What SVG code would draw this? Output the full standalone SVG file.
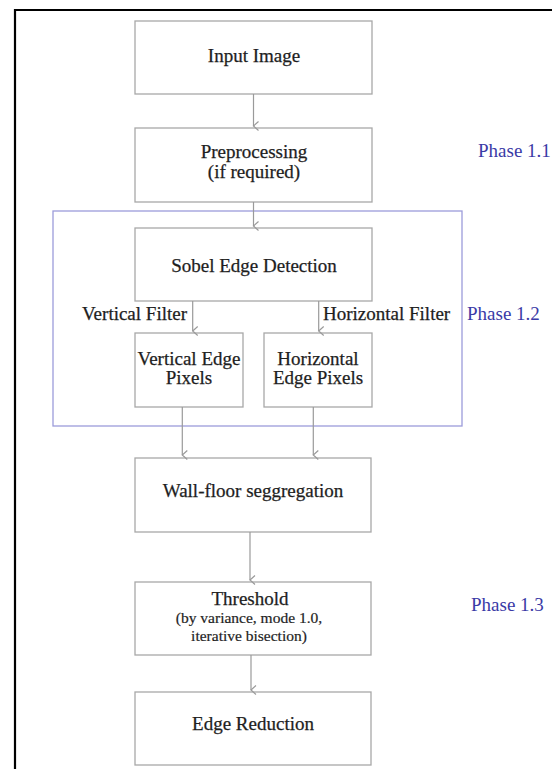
<svg xmlns="http://www.w3.org/2000/svg" width="552" height="769" viewBox="0 0 552 769">
<defs>
<style>
.box{fill:#fff;stroke:#a8a8a8;stroke-width:1.3}
.t{font-family:"Liberation Serif","Times New Roman",serif;font-size:19px;fill:#1e1e1e;stroke:#1e1e1e;stroke-width:0.25;text-anchor:middle}
.s{font-family:"Liberation Serif","Times New Roman",serif;font-size:15.5px;fill:#1e1e1e;stroke:#1e1e1e;stroke-width:0.2;text-anchor:middle}
.ph{font-family:"Liberation Serif","Times New Roman",serif;font-size:19px;fill:#3a3aa6}
.c{fill:none;stroke:#9a9a9a;stroke-width:1.2}
</style>
<marker id="ah" markerWidth="14" markerHeight="10" refX="7" refY="7" orient="auto" markerUnits="userSpaceOnUse" viewBox="0 0 14 10">
<path d="M2.5,2 L7,7 L11.5,2" fill="none" stroke="#9a9a9a" stroke-width="1.2"/>
</marker>
</defs>
<rect width="552" height="769" fill="#fff"/>
<path d="M15,769 V10 H552" fill="none" stroke="#000" stroke-width="2.2"/>

<g id="phase12-group">
<rect x="53" y="211" width="409" height="215" fill="none" stroke="#9c9cda" stroke-width="1.3"/>
</g>

<g id="input-image">
<rect class="box" x="135" y="21" width="237" height="73"/>
<text class="t" x="254" y="62">Input Image</text>
</g>
<g id="preprocessing">
<rect class="box" x="135" y="128" width="237" height="74"/>
<text class="t" x="254" y="158">Preprocessing</text>
<text class="t" x="254" y="178">(if required)</text>
</g>
<g id="sobel">
<rect class="box" x="135" y="228" width="237" height="73"/>
<text class="t" x="254" y="272">Sobel Edge Detection</text>
</g>
<g id="vertical-edge">
<rect class="box" x="135" y="333" width="108" height="74"/>
<text class="t" x="189" y="365">Vertical Edge</text>
<text class="t" x="189" y="384">Pixels</text>
</g>
<g id="horizontal-edge">
<rect class="box" x="264" y="333" width="108" height="74"/>
<text class="t" x="318" y="365">Horizontal</text>
<text class="t" x="318" y="384">Edge Pixels</text>
</g>
<g id="wall-floor">
<rect class="box" x="135" y="458" width="236" height="74"/>
<text class="t" x="253" y="497">Wall-floor seggregation</text>
</g>
<g id="threshold">
<rect class="box" x="135" y="582" width="236" height="73"/>
<text class="t" x="250" y="605">Threshold</text>
<text class="s" x="249" y="623">(by variance, mode 1.0,</text>
<text class="s" x="249" y="641">iterative bisection)</text>
</g>
<g id="edge-reduction">
<rect class="box" x="135" y="692" width="236" height="73"/>
<text class="t" x="253" y="730">Edge Reduction</text>
</g>

<g id="labels">
<text class="t" x="187" y="320" style="text-anchor:end">Vertical Filter</text>
<text class="t" x="323" y="320" style="text-anchor:start">Horizontal Filter</text>
<text class="ph" x="478" y="157">Phase 1.1</text>
<text class="ph" x="467" y="320">Phase 1.2</text>
<text class="ph" x="471" y="611">Phase 1.3</text>
</g>

<g id="connectors">
<line class="c" x1="253.5" y1="94" x2="253.5" y2="126" marker-end="url(#ah)"/>
<line class="c" x1="253.5" y1="202" x2="253.5" y2="226" marker-end="url(#ah)"/>
<line class="c" x1="192.7" y1="301" x2="192.7" y2="331" marker-end="url(#ah)"/>
<line class="c" x1="318.7" y1="301" x2="318.7" y2="331" marker-end="url(#ah)"/>
<line class="c" x1="182.3" y1="407" x2="182.3" y2="455" marker-end="url(#ah)"/>
<line class="c" x1="313.3" y1="407" x2="313.3" y2="455" marker-end="url(#ah)"/>
<line class="c" x1="250" y1="532" x2="250" y2="580" marker-end="url(#ah)"/>
<line class="c" x1="251" y1="655" x2="251" y2="690" marker-end="url(#ah)"/>
</g>
</svg>
